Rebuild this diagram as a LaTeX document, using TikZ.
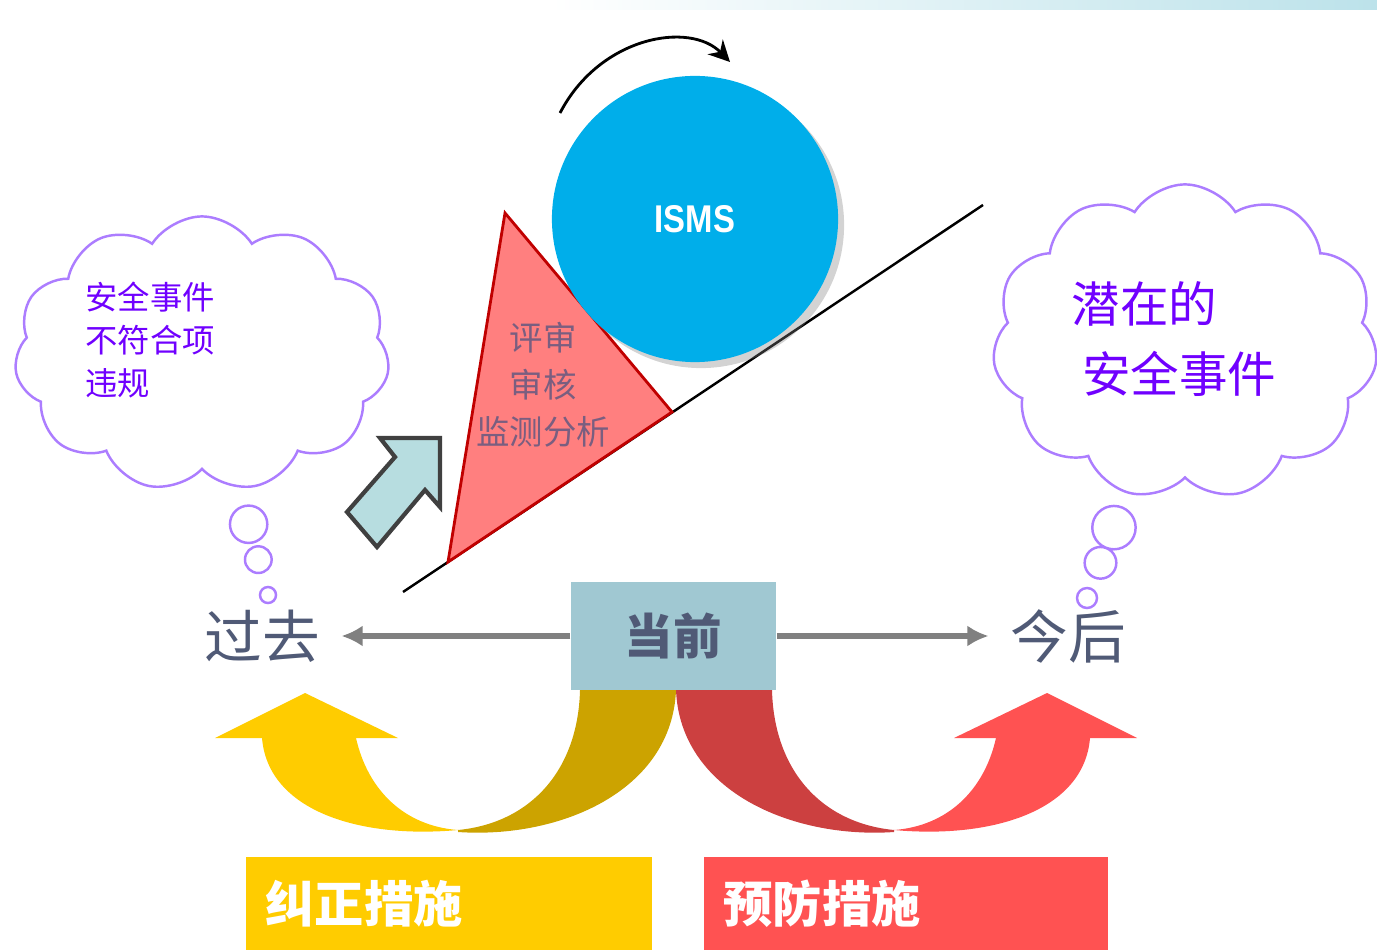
\documentclass[tikz,border=0pt]{standalone}
\usepackage{fontspec}
\setmainfont{Liberation Sans}
\newfontfamily\cjk{Noto Sans CJK SC}
\usetikzlibrary{shapes.callouts,shapes.symbols,arrows.meta,shadows}

\definecolor{thought}{RGB}{172,125,255}
\definecolor{thoughttext}{RGB}{112,0,255}
\definecolor{review}{RGB}{255,127,127}
\definecolor{reviewedge}{RGB}{192,0,0}
\definecolor{reviewtext}{RGB}{122,94,128}
\definecolor{isms}{RGB}{0,174,234}
\definecolor{push}{RGB}{183,221,224}
\definecolor{timeline}{RGB}{128,128,128}
\definecolor{timetext}{RGB}{80,90,118}
\definecolor{nowfill}{RGB}{160,200,210}
\definecolor{correct}{RGB}{255,204,0}
\definecolor{correctdark}{RGB}{204,163,0}
\definecolor{prevent}{RGB}{255,82,82}
\definecolor{preventdark}{RGB}{204,64,64}
\definecolor{bandtint}{RGB}{188,226,234}

\begin{document}
\begin{tikzpicture}[x=0.01cm, y=0.01cm,
    thinking/.style={cloud callout, draw=thought, line width=0.7pt, cloud puffs=11,
        cloud puff arc=115, cloud ignores aspect, callout pointer segments=3, inner sep=0pt},
    thinktext/.style={text=thoughttext, align=left, inner sep=0pt},
    when/.style={text=timetext, font=\cjk\fontsize{16.4}{18}\selectfont, inner sep=6pt},
    timearrow/.style={draw=timeline, line width=1.6pt, -{Latex[length=6pt,width=6pt]}},
    measure/.style={anchor=south west, minimum height=0.93cm, inner xsep=0.2cm,
        align=left, text=white, font=\cjk\bfseries\fontsize{14}{16}\selectfont}]
    \useasboundingbox (0,0) rectangle (1377,951);
    \shade[left color=white, right color=bandtint] (550,941) rectangle (1377,951);

    % slope, wedge and the rolling ball
    \coordinate (slopelow) at (403,359);
    \coordinate (slopehigh) at (983,746);
    \draw[line width=0.7pt] (slopelow) -- (slopehigh);
    \filldraw[fill=review, draw=reviewedge, line width=0.8pt]
        (505,738) -- (448,389) -- (672,539) -- cycle;
    \node[text=reviewtext, align=center, inner sep=0pt,
        font=\cjk\fontsize{9.5}{13.4}\selectfont] (reviewnote) at (543,566)
        {评审\\审核\\监测分析};
    \node[circle, fill=isms, minimum size=2.86cm,
        drop shadow={shadow xshift=0.6mm, shadow yshift=-0.6mm, opacity=0.35},
        text=white, font=\bfseries\fontsize{11}{13}\selectfont] (isms) at (695,732)
        {\scalebox{0.85}[1]{ISMS}};
    \coordinate (spinfrom) at (560,838);
    \coordinate (spinto) at (730,889);
    \draw[line width=0.8pt, -{Stealth[length=6pt,width=6pt]}]
        (spinfrom) .. controls (600,915) and (690,930) .. (spinto);

    % block arrow pushing the wedge
    \filldraw[fill=push, draw=black!75, line width=1.2pt, line join=miter]
        (380,513) -- (440,513) -- (440,444) -- (425,461) -- (377,404)
        -- (347,439) -- (395,494) -- cycle;

    % thought clouds
    \node[thinking, minimum width=3.75cm, minimum height=2.75cm,
        callout absolute pointer={(268,356)},
        callout pointer start size=0.4cm and 0.48cm,
        callout pointer end size=0.17cm and 0.16cm] (pastcloud) at (202,597) {};
    \node[thinktext, font=\cjk\fontsize{9.2}{12.2}\selectfont] (pastnote) at (150,611)
        {安全事件\\不符合项\\违规};
    \node[thinking, minimum width=3.85cm, minimum height=3.15cm,
        callout absolute pointer={(1087,353)},
        callout pointer start size=0.47cm and 0.55cm,
        callout pointer end size=0.19cm and 0.2cm] (futurecloud) at (1185,609) {};
    \node[thinktext, font=\cjk\fontsize{13.8}{20}\selectfont] (futurenote) at (1174,612)
        {潜在的\\\hspace*{3pt}安全事件};

    % time line
    \node[fill=nowfill, minimum width=2.05cm, minimum height=1.08cm, text=timetext,
        font=\cjk\bfseries\fontsize{13.8}{16}\selectfont] (now) at (673.5,315) {当前};
    \node[when] (past) at (262,315) {过去};
    \node[when] (future) at (1068,315) {今后};
    \draw[timearrow] (now.west) -- (past.east);
    \draw[timearrow] (now.east) -- (future.west);

    % corrective turn
    \fill[correctdark] (458,119) .. controls (560,112) and (672,160) .. (676,261)
        -- (580,261) .. controls (578,180) and (530,128) .. (458,121) -- cycle;
    \fill[correct] (356,213) .. controls (368,160) and (405,125) .. (458,121)
        .. controls (360,112) and (268,140) .. (262,213)
        -- (215,213) -- (305,258) -- (398,213) -- cycle;
    % preventive turn
    \fill[preventdark] (894,119) .. controls (792,112) and (680,160) .. (676,261)
        -- (772,261) .. controls (774,180) and (822,128) .. (894,121) -- cycle;
    \fill[prevent] (996,213) .. controls (984,160) and (947,125) .. (894,121)
        .. controls (992,112) and (1084,140) .. (1090,213)
        -- (1137,213) -- (1047,258) -- (954,213) -- cycle;

    \node[measure, fill=correct, text width=3.66cm] (fix) at (245,0) {纠正措施};
    \node[measure, fill=prevent, text width=3.64cm] (guard) at (703,0) {预防措施};
\end{tikzpicture}
\end{document}
